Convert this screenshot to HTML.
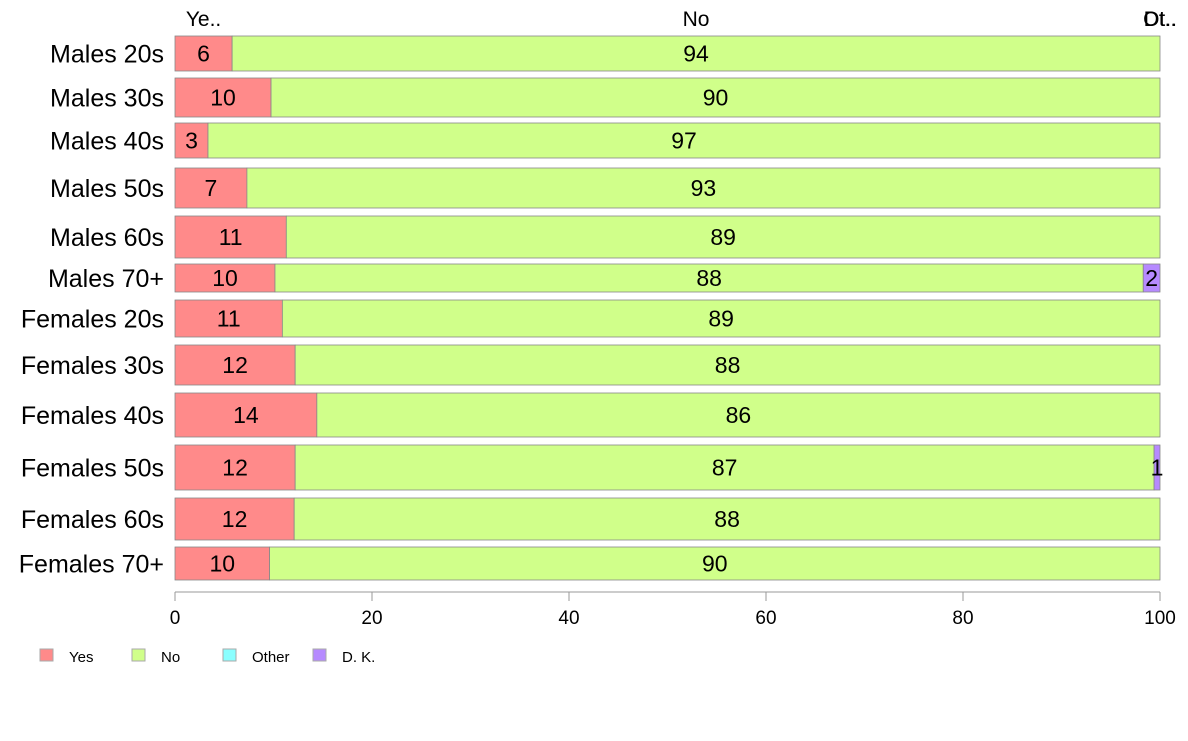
<!DOCTYPE html>
<html><head><meta charset="utf-8"><style>
body{margin:0;background:#fff;font-family:"Liberation Sans",Arial,sans-serif}
svg text{font-family:"Liberation Sans",Arial,sans-serif}
</style></head><body>
<svg id="chart" width="1188" height="736" xmlns="http://www.w3.org/2000/svg"></svg>
<script>
const categories=["Males 20s","Males 30s","Males 40s","Males 50s","Males 60s","Males 70+","Females 20s","Females 30s","Females 40s","Females 50s","Females 60s","Females 70+"];
const yesVals=[5.8,9.75,3.35,7.3,11.3,10.15,10.9,12.2,14.4,12.2,12.1,9.6];
const otherVals=[0,0,0,0,0,0,0,0,0,0,0,0];
const dkVals=[0,0,0,0,0,1.7,0,0,0,0.6,0,0];
const rowTop=[36,78,123,168,216,264,300,345,393,445,498,547];
const rowBottom=[71,117,158,208,258,292,337,385,437,490,540,580];
const xTicks=[0,20,40,60,80,100];
const seriesNames=["Yes","No","Other","D. K."];
const topLabels=["Ye..","No","Ot..","Dt.."];
const colors=["#ff8a8a","#d0ff8a","#8affff","#b68aff"];
const NS="http://www.w3.org/2000/svg";
const svg=document.getElementById("chart");
const x0=175,x1=1160;
const xs=v=>x0+(x1-x0)*v/100;
function mk(t,a,txt){const e=document.createElementNS(NS,t);for(const k in a)e.setAttribute(k,a[k]);if(txt!==undefined)e.textContent=txt;svg.appendChild(e);return e;}
categories.forEach((c,i)=>{
  const no=100-yesVals[i]-otherVals[i]-dkVals[i];
  const vals=[yesVals[i],no,otherVals[i],dkVals[i]];
  let acc=0;const y=rowTop[i],h=rowBottom[i]-rowTop[i];
  vals.forEach((v,j)=>{
    if(v>0){
      const r=mk("rect",{x:xs(acc),y:y,width:xs(acc+v)-xs(acc),height:h,fill:colors[j],stroke:"#888","stroke-width":0.8});
      
      
      const t=mk("text",{x:(xs(acc)+xs(acc+v))/2,y:y+h/2+8,"text-anchor":"middle","font-size":23,fill:"#000"},Math.round(v));
      
      
    }
    if(i===0){
      const tl=mk("text",{x:(xs(acc)+xs(acc+v))/2,y:26,"text-anchor":"middle","font-size":21,fill:"#000"},topLabels[j]);
      
      
    }
    acc+=v;
  });
  const l=mk("text",{x:164,y:y+h/2+9,"text-anchor":"end","font-size":25,fill:"#000"},c);
  
  
});
const ax=mk("line",{x1:x0,x2:x1,y1:592,y2:592,stroke:"#999","stroke-width":1});


xTicks.forEach(v=>{
  const tk=mk("line",{x1:xs(v),x2:xs(v),y1:592,y2:601,stroke:"#999"});
  
  
  const tt=mk("text",{x:xs(v),y:624,"text-anchor":"middle","font-size":19,fill:"#000"},v);
  
  
});
const legX=[40,132,223,313];
seriesNames.forEach((n,j)=>{
  const r=mk("rect",{x:legX[j],y:649,width:13,height:12,fill:colors[j],stroke:"#aaa"});
  
  
  const t=mk("text",{x:legX[j]+29,y:662,"font-size":15,fill:"#000"},n);
  
  
});
</script>
</body></html>
